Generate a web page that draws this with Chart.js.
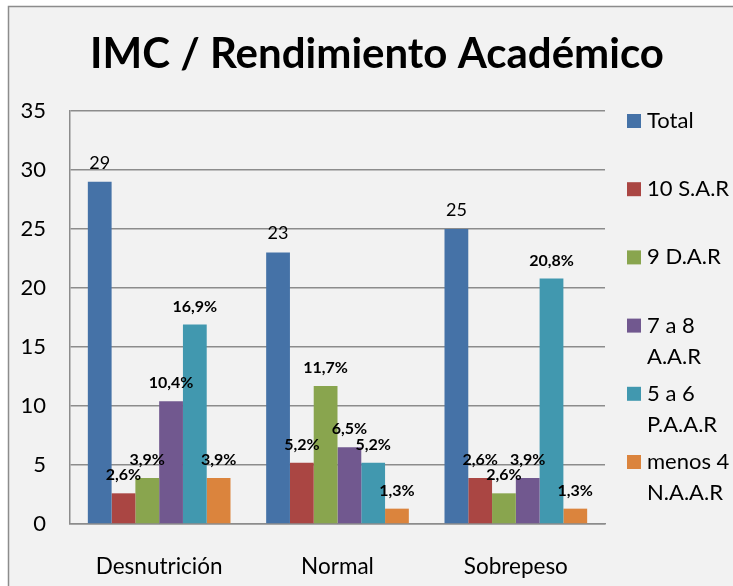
<!DOCTYPE html>
<html>
<head>
<meta charset="utf-8">
<script src="https://cdn.jsdelivr.net/npm/chart.js"></script>
<style>
  html, body { margin: 0; padding: 0; background: #fff; }
</style>
</head>
<body>
<canvas id="myChart" width="733" height="586"></canvas>
<script>
// -- Data.
const categories   = ['Desnutrición', 'Normal', 'Sobrepeso'];
const series_names = ['Total', '10 S.A.R', '9 D.A.R', '7 a 8 A.A.R', '5 a 6 P.A.A.R', 'menos 4 N.A.A.R'];
const total   = [29, 23, 25];
const sar10   = [2.6, 5.2, 3.9];
const dar9    = [3.9, 11.7, 2.6];
const aar7_8  = [10.4, 6.5, 3.9];
const paar5_6 = [16.9, 5.2, 20.8];
const naar4   = [3.9, 1.3, 1.3];

// -- Value labels as written on the original (they are not always the bar value).
const total_labels   = ['29', '23', '25'];
const sar10_labels   = ['2,6%', '5,2%', '2,6%'];
const dar9_labels    = ['3,9%', '11,7%', '2,6%'];
const aar7_8_labels  = ['10,4%', '6,5%', '3,9%'];
const paar5_6_labels = ['16,9%', '5,2%', '20,8%'];
const naar4_labels   = ['3,9%', '1,3%', '1,3%'];

const y_min = 0, y_max = 35, y_step = 5;

const colors = ['#4572A7', '#AA4643', '#89A54E', '#71588F', '#4198AF', '#DB843D'];
const FONT = 'Lato, "Open Sans", sans-serif';
const GRID = '#8c8c8c';

const values = [total, sar10, dar9, aar7_8, paar5_6, naar4];
const value_labels = [total_labels, sar10_labels, dar9_labels, aar7_8_labels, paar5_6_labels, naar4_labels];

// -- Grey panel with a thin border, and the title.
const frame_plugin = {
  id: 'frame',
  beforeDraw(chart) {
    const {ctx, width, height} = chart;
    ctx.save();
    ctx.fillStyle = '#ffffff';
    ctx.fillRect(0, 0, width, height);
    ctx.fillStyle = '#f2f2f2';
    ctx.fillRect(8, 6, width, height);
    ctx.strokeStyle = GRID;
    ctx.lineWidth = 1.5;
    ctx.strokeRect(8.5, 6.5, width + 10, height + 10);
    ctx.restore();
  },
  afterDraw(chart) {
    const {ctx} = chart;
    ctx.save();
    ctx.fillStyle = '#000';
    ctx.font = 'bold 42px ' + FONT;
    ctx.textAlign = 'center';
    ctx.textBaseline = 'middle';
    ctx.fillText('IMC / Rendimiento Académico', 377, 54);
    ctx.restore();
  }
};

// -- Labels above each bar.
const value_label_plugin = {
  id: 'valueLabels',
  afterDatasetsDraw(chart) {
    const {ctx} = chart;
    ctx.save();
    ctx.fillStyle = '#000';
    ctx.textAlign = 'center';
    ctx.textBaseline = 'bottom';
    chart.data.datasets.forEach((ds, i) => {
      const meta = chart.getDatasetMeta(i);
      ctx.font = (i === 0 ? '18px ' : 'bold 16px ') + FONT;
      meta.data.forEach((bar, j) => {
        ctx.fillText(value_labels[i][j], bar.x, bar.y - 10);
      });
    });
    ctx.restore();
  }
};

// -- Legend on the right, names wrapped like the original.
const side_legend_plugin = {
  id: 'sideLegend',
  afterDraw(chart) {
    const {ctx, chartArea} = chart;
    const box_x = 627, text_x = 647, max_w = 90;
    const pitch = 68.2, line_h = 31;
    ctx.save();
    ctx.font = '22px ' + FONT;
    ctx.textBaseline = 'middle';
    ctx.textAlign = 'left';
    chart.data.datasets.forEach((ds, i) => {
      const y = chartArea.top + 10 + i * pitch;
      ctx.fillStyle = ds.backgroundColor;
      ctx.fillRect(box_x, y - 7, 14, 14);
      // -- Greedy word wrap.
      const lines = [];
      let cur = '';
      ds.label.split(' ').forEach((w) => {
        const next = cur ? cur + ' ' + w : w;
        if (cur && ctx.measureText(next).width > max_w) {
          lines.push(cur);
          cur = w;
        } else {
          cur = next;
        }
      });
      lines.push(cur);
      ctx.fillStyle = '#000';
      lines.forEach((l, k) => ctx.fillText(l, text_x, y + k * line_h));
    });
    ctx.restore();
  }
};

const chart = new Chart(
  document.getElementById('myChart'),
  {
    type: 'bar',
    data: {
      labels: categories,
      datasets: values.map((v, i) => ({
        label: series_names[i],
        data: v,
        backgroundColor: colors[i],
        borderWidth: 0,
        categoryPercentage: 0.8,
        barPercentage: 1.0,
      })),
    },
    options: {
      responsive: false,
      animation: false,
      layout: { padding: { left: 8, right: 128, top: 111, bottom: 0 } },
      scales: {
        x: {
          grid: { display: false },
          border: { display: true, color: GRID, width: 1.5 },
          ticks: { color: '#000', font: { family: FONT, size: 22.5 }, padding: 21 },
          afterFit: (scale) => { scale.height = 62; },
        },
        y: {
          min: y_min,
          max: y_max,
          grid: { color: GRID, lineWidth: 1.5, drawTicks: false },
          border: { display: true, color: GRID, width: 1.5 },
          ticks: { stepSize: y_step, color: '#000', font: { family: FONT, size: 22 }, padding: 24 },
          afterFit: (scale) => { scale.width = 62; },
        }
      },
      plugins: {
        legend: { display: false },
        tooltip: { enabled: false },
      }
    },
    plugins: [frame_plugin, value_label_plugin, side_legend_plugin]
  }
);
</script>
</body>
</html>
